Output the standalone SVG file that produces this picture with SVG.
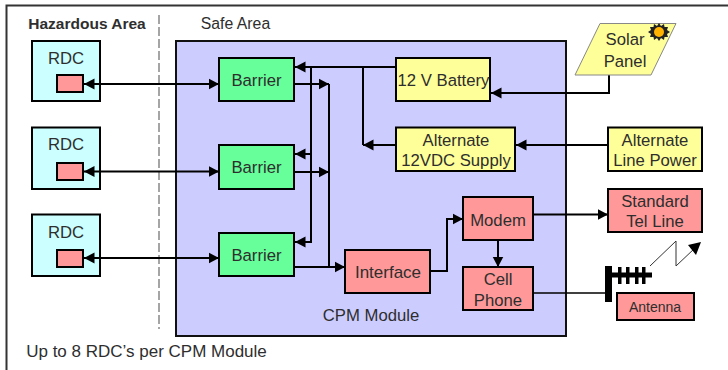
<svg xmlns="http://www.w3.org/2000/svg" width="728" height="370" viewBox="0 0 728 370">
<style>
text{font-family:"Liberation Sans",Arial,sans-serif;font-size:16.7px;fill:#2e2e2e;text-anchor:middle}
.b{stroke:#000;stroke-width:2}
.c{fill:none;stroke:#000;stroke-width:2}
.a{marker-end:url(#ah)}
.d{marker-start:url(#as);marker-end:url(#ah)}
.cy{fill:#CCFFFF}.pk{fill:#FF9999}.gr{fill:#66FF99}.ye{fill:#FFFF99}
</style>
<defs>
<marker id="ah" markerUnits="userSpaceOnUse" markerWidth="11" markerHeight="12" refX="10.5" refY="6" orient="auto"><path d="M0,0.5L10.5,6L0,11.5z" fill="#000"/></marker>
<marker id="as" markerUnits="userSpaceOnUse" markerWidth="11" markerHeight="12" refX="0" refY="6" orient="auto"><path d="M0,6L10.5,0.5V11.5z" fill="#000"/></marker>
</defs>
<rect width="728" height="370" fill="#fff"/>
<path id="frame" d="M6.5,370V5.500H728" fill="none" stroke="#333" stroke-width="2"/>
<path id="divider" d="M159,15V329" fill="none" stroke="#888" stroke-width="1.500" stroke-dasharray="9,3"/>
<text x="87" y="29" style="font-weight:bold;font-size:15.5px">Hazardous Area</text>
<text x="235.500" y="29" style="font-size:15.8px">Safe Area</text>
<text x="146.500" y="356.500" style="font-size:17px">Up to 8 RDC’s per CPM Module</text>
<g id="cpm"><rect x="176" y="41" width="390" height="295" fill="#CCCCFF" stroke="#111" stroke-width="2"/><text x="371" y="321">CPM Module</text></g>
<g id="rdc1"><rect class="b cy" x="32" y="41" width="68" height="60"/><text x="66" y="63.500">RDC</text><rect class="b pk" x="57" y="75" width="26" height="17"/></g>
<g id="rdc2"><rect class="b cy" x="32" y="127.500" width="68" height="61.500"/><text x="66" y="150">RDC</text><rect class="b pk" x="57" y="163" width="26" height="17"/></g>
<g id="rdc3"><rect class="b cy" x="32" y="214.500" width="68" height="61.500"/><text x="66" y="238">RDC</text><rect class="b pk" x="57" y="250" width="26" height="17"/></g>
<g id="connectors">
<path class="c d" d="M84,84H219"/><path class="c d" d="M84,171.500H219"/><path class="c d" d="M84,258H219"/>
<path class="c a" d="M396,67H295"/><path class="c" d="M311,67V154"/><path class="c a" d="M311,154H295"/><path class="c a" d="M311,154V242H295"/>
<path class="c" d="M363,67V145"/><path class="c a" d="M396,145H363"/>
<path class="c a" d="M294,84H329"/><path class="c a" d="M294,172H329"/><path class="c" d="M329,84V267"/><path class="c a" d="M294,267H345"/>
<path class="c a" d="M609,75V93H491"/><path class="c a" d="M608,145H516"/>
<path class="c a" d="M533,214.500H608"/><path class="c a" d="M498,240V267"/><path class="c a" d="M430,271H447V219H463"/>
<path fill="none" stroke="#000" stroke-width="1.500" d="M533,293H605"/>
<path fill="none" stroke="#333" stroke-width="1" d="M650,266L676,241V266L695,248"/>
<path d="M701,242L696,255L688,245z" fill="#000"/>
</g>
<g id="barrier1"><rect class="b gr" x="219" y="58" width="75" height="43"/><text x="256.500" y="86">Barrier</text></g>
<g id="barrier2"><rect class="b gr" x="219" y="145" width="75" height="44"/><text x="256.500" y="173">Barrier</text></g>
<g id="barrier3"><rect class="b gr" x="219" y="233" width="75" height="43"/><text x="256.500" y="261">Barrier</text></g>
<g id="battery"><rect class="b ye" x="396" y="58" width="94" height="43"/><text x="443.500" y="86">12 V Battery</text></g>
<g id="alt-supply"><rect class="b ye" x="396" y="127.500" width="119" height="43.500"/><text x="456" y="146">Alternate</text><text x="456" y="166">12VDC Supply</text></g>
<g id="line-power"><rect class="b ye" x="608" y="127.500" width="94" height="43.500"/><text x="655" y="146">Alternate</text><text x="655" y="166">Line Power</text></g>
<g id="solar"><path d="M600,23.500H676L651,75H575z" fill="#FFFF99" stroke="#888" stroke-width="1"/><text x="625" y="45">Solar</text><text x="625" y="66.500">Panel</text>
<path d="M659,23L661,26L664,24L664.500,27L668,27L667,30L670,32L667,34L668,37L664.500,37L664,40L661,38L659,41L657,38L654,40L653.500,37L650,37L651,34L648,32L651,30L650,27L653.500,27L654,24L657,26z" fill="#222"/><circle cx="659" cy="32" r="5" fill="#FFB300"/></g>
<g id="interface"><rect class="b pk" x="345" y="250" width="85" height="43"/><text x="388" y="278" style="font-size:17px">Interface</text></g>
<g id="modem"><rect class="b pk" x="463" y="197" width="70" height="43"/><text x="498" y="225.500">Modem</text></g>
<g id="cell"><rect class="b pk" x="463" y="267" width="70" height="43"/><text x="498" y="285">Cell</text><text x="498" y="305.500">Phone</text></g>
<g id="tel"><rect class="b pk" x="608" y="189" width="94" height="43"/><text x="655" y="207">Standard</text><text x="655" y="227">Tel Line</text></g>
<g id="antenna"><path d="M605,266h7v36h-7zM612,272.500H652v5H612zM618,267h3.500v17h-3.500zM626,267h3.500v17h-3.500zM635,267h3.500v17h-3.500zM642,267h3.500v17h-3.500z" fill="#000"/><rect class="b pk" x="617" y="293" width="77" height="27"/><text x="655" y="312" style="font-size:14px">Antenna</text></g>
</svg>
